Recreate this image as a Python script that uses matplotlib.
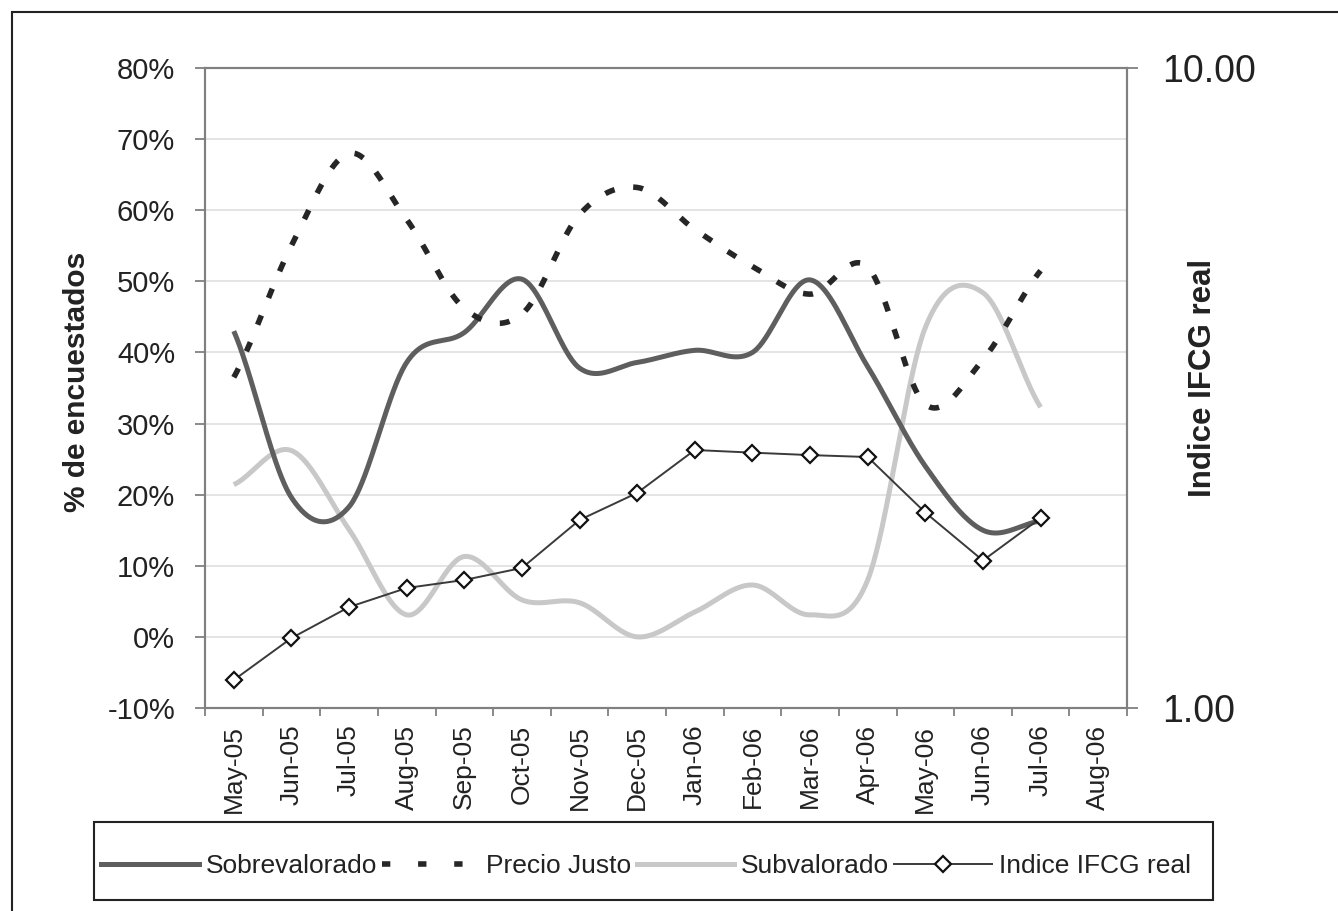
import numpy as np
import matplotlib
matplotlib.use('Agg')
import matplotlib.pyplot as plt
from matplotlib.lines import Line2D
from matplotlib.patches import Rectangle

plt.rcParams['font.family'] = ['Liberation Sans', 'DejaVu Sans']

# Data
months = ['May-05', 'Jun-05', 'Jul-05', 'Aug-05', 'Sep-05', 'Oct-05', 'Nov-05', 'Dec-05',
          'Jan-06', 'Feb-06', 'Mar-06', 'Apr-06', 'May-06', 'Jun-06', 'Jul-06', 'Aug-06']
sobrevalorado = [43.0, 19.6, 18.3, 38.6, 42.8, 50.3, 37.8, 38.6, 40.3, 40.0, 50.2, 38.0, 24.0, 15.0, 16.3]
precio_justo = [36.5, 55.0, 68.0, 58.7, 46.2, 45.4, 59.4, 63.2, 57.3, 52.1, 48.2, 52.0, 32.7, 39.0, 51.5]
subvalorado = [21.4, 26.2, 15.1, 3.1, 11.3, 5.2, 4.8, 0.0, 3.5, 7.3, 3.1, 8.0, 43.5, 48.4, 32.3]
indice_ifcg = [1.106, 1.286, 1.438, 1.54, 1.585, 1.655, 1.967, 2.168, 2.53, 2.506, 2.484, 2.467, 2.02, 1.70, 1.98]

pct_ticks = [-10, 0, 10, 20, 30, 40, 50, 60, 70, 80]


# Excel-like smoothed line (cardinal spline through the monthly points)
def smooth(vals, steps=40):
    v = np.asarray(vals, float)
    n = len(v)
    m = np.empty(n)
    m[1:-1] = (v[2:] - v[:-2]) / 2
    m[0] = (v[1] - v[0]) * 0.8
    m[-1] = (v[-1] - v[-2]) * 0.8
    t = np.linspace(0, 1, steps, endpoint=False)
    h00 = 2 * t**3 - 3 * t**2 + 1
    h10 = t**3 - 2 * t**2 + t
    h01 = -2 * t**3 + 3 * t**2
    h11 = t**3 - t**2
    xs, ys = [], []
    for i in range(n - 1):
        xs.append(i + t)
        ys.append(h00 * v[i] + h10 * m[i] + h01 * v[i + 1] + h11 * m[i + 1])
    xs.append([n - 1])
    ys.append([v[-1]])
    return np.concatenate(xs), np.concatenate(ys)


W, H = 1338, 911
fig = plt.figure(figsize=(W / 100, H / 100), dpi=100)
ax = fig.add_axes([205 / W, 1 - 708 / H, 922 / W, 640 / H])
ax2 = ax.twinx()

# figure border
fig.patches.append(Rectangle((12 / W, -0.1), 2, 1.1 - 12 / H, transform=fig.transFigure,
                             fill=False, edgecolor='#222222', linewidth=1.5))

c_sobre = '#5e5e5e'
c_justo = '#262626'
c_sub = '#c8c8c8'
c_idx = '#3a3a3a'

x, y = smooth(sobrevalorado)
ax.plot(x, y, color=c_sobre, lw=3.6, solid_capstyle='butt', zorder=3)
x, y = smooth(precio_justo)
ax.plot(x, y, color=c_justo, lw=4.0, dashes=(1.8, 3.4), zorder=3)
x, y = smooth(subvalorado)
ax.plot(x, y, color=c_sub, lw=3.6, solid_capstyle='butt', zorder=2)

ax2.plot(np.arange(len(indice_ifcg)), indice_ifcg, color=c_idx, lw=1.4,
         marker='D', markersize=7.8, markerfacecolor='white', markeredgecolor='#111111',
         markeredgewidth=1.6)

# left axis
ax.set_ylim(-10, 80)
ax.set_yticks(pct_ticks)
ax.set_yticklabels([f'{v}%' for v in pct_ticks])
ax.yaxis.grid(True, color='#dcdcdc', lw=1.1)
ax.set_axisbelow(True)
ax.set_xlim(-0.5, len(months) - 0.5)
ax.set_xticks(np.arange(len(months)))
ax.set_xticklabels(months, rotation=90)
ax.set_xticks(np.arange(len(months) + 1) - 0.5, minor=True)
ax.tick_params(axis='x', which='major', length=0, pad=12, labelsize=19, labelcolor='#222222')
ax.tick_params(axis='x', which='minor', length=6, width=1.3, color='#808080')
ax.tick_params(axis='y', length=7, width=1.3, color='#808080', pad=14.5, labelsize=21,
               labelcolor='#222222')

# right axis (log)
ax2.set_yscale('log')
ax2.set_ylim(1, 10)
ax2.set_yticks([1, 10])
ax2.set_yticklabels(['1.00', '10.00'])
ax2.yaxis.set_minor_locator(matplotlib.ticker.NullLocator())
ax2.tick_params(axis='y', length=8, width=1.3, color='#808080', pad=17, labelsize=27,
                labelcolor='#222222')

for a in (ax, ax2):
    for s in a.spines.values():
        s.set_color('#808080')
        s.set_linewidth(1.5)

fig.text(77 / W, 1 - 382 / H, '% de encuestados', rotation=90, ha='center', va='center',
         fontsize=21.5, fontweight='bold', color='#222222')
fig.text(1203 / W, 1 - 378 / H, 'Indice IFCG real', rotation=90, ha='center', va='center',
         fontsize=22.5, fontweight='bold', color='#222222')

# legend
handles = [
    Line2D([], [], color=c_sobre, lw=3.6),
    Line2D([], [], color=c_justo, lw=4.0, dashes=(1.5, 5)),
    Line2D([], [], color=c_sub, lw=3.6),
    Line2D([], [], color=c_idx, lw=1.4, marker='D', markersize=7.8, markerfacecolor='white',
           markeredgecolor='#111111', markeredgewidth=1.6),
]
labels = ['Sobrevalorado', 'Precio Justo', 'Subvalorado', 'Indice IFCG real']
fig.legend(handles, labels, loc='center', bbox_to_anchor=(646 / W, 1 - 866 / H), ncol=4,
           frameon=False, fontsize=19, handlelength=3.7, handletextpad=0.25,
           columnspacing=0.2, labelcolor='#222222')
fig.patches.append(Rectangle((94 / W, 1 - 900 / H), (1213 - 94) / W, 78 / H,
                             transform=fig.transFigure, fill=False, edgecolor='#222222',
                             linewidth=1.5))

fig.savefig('out.png', dpi=100)
